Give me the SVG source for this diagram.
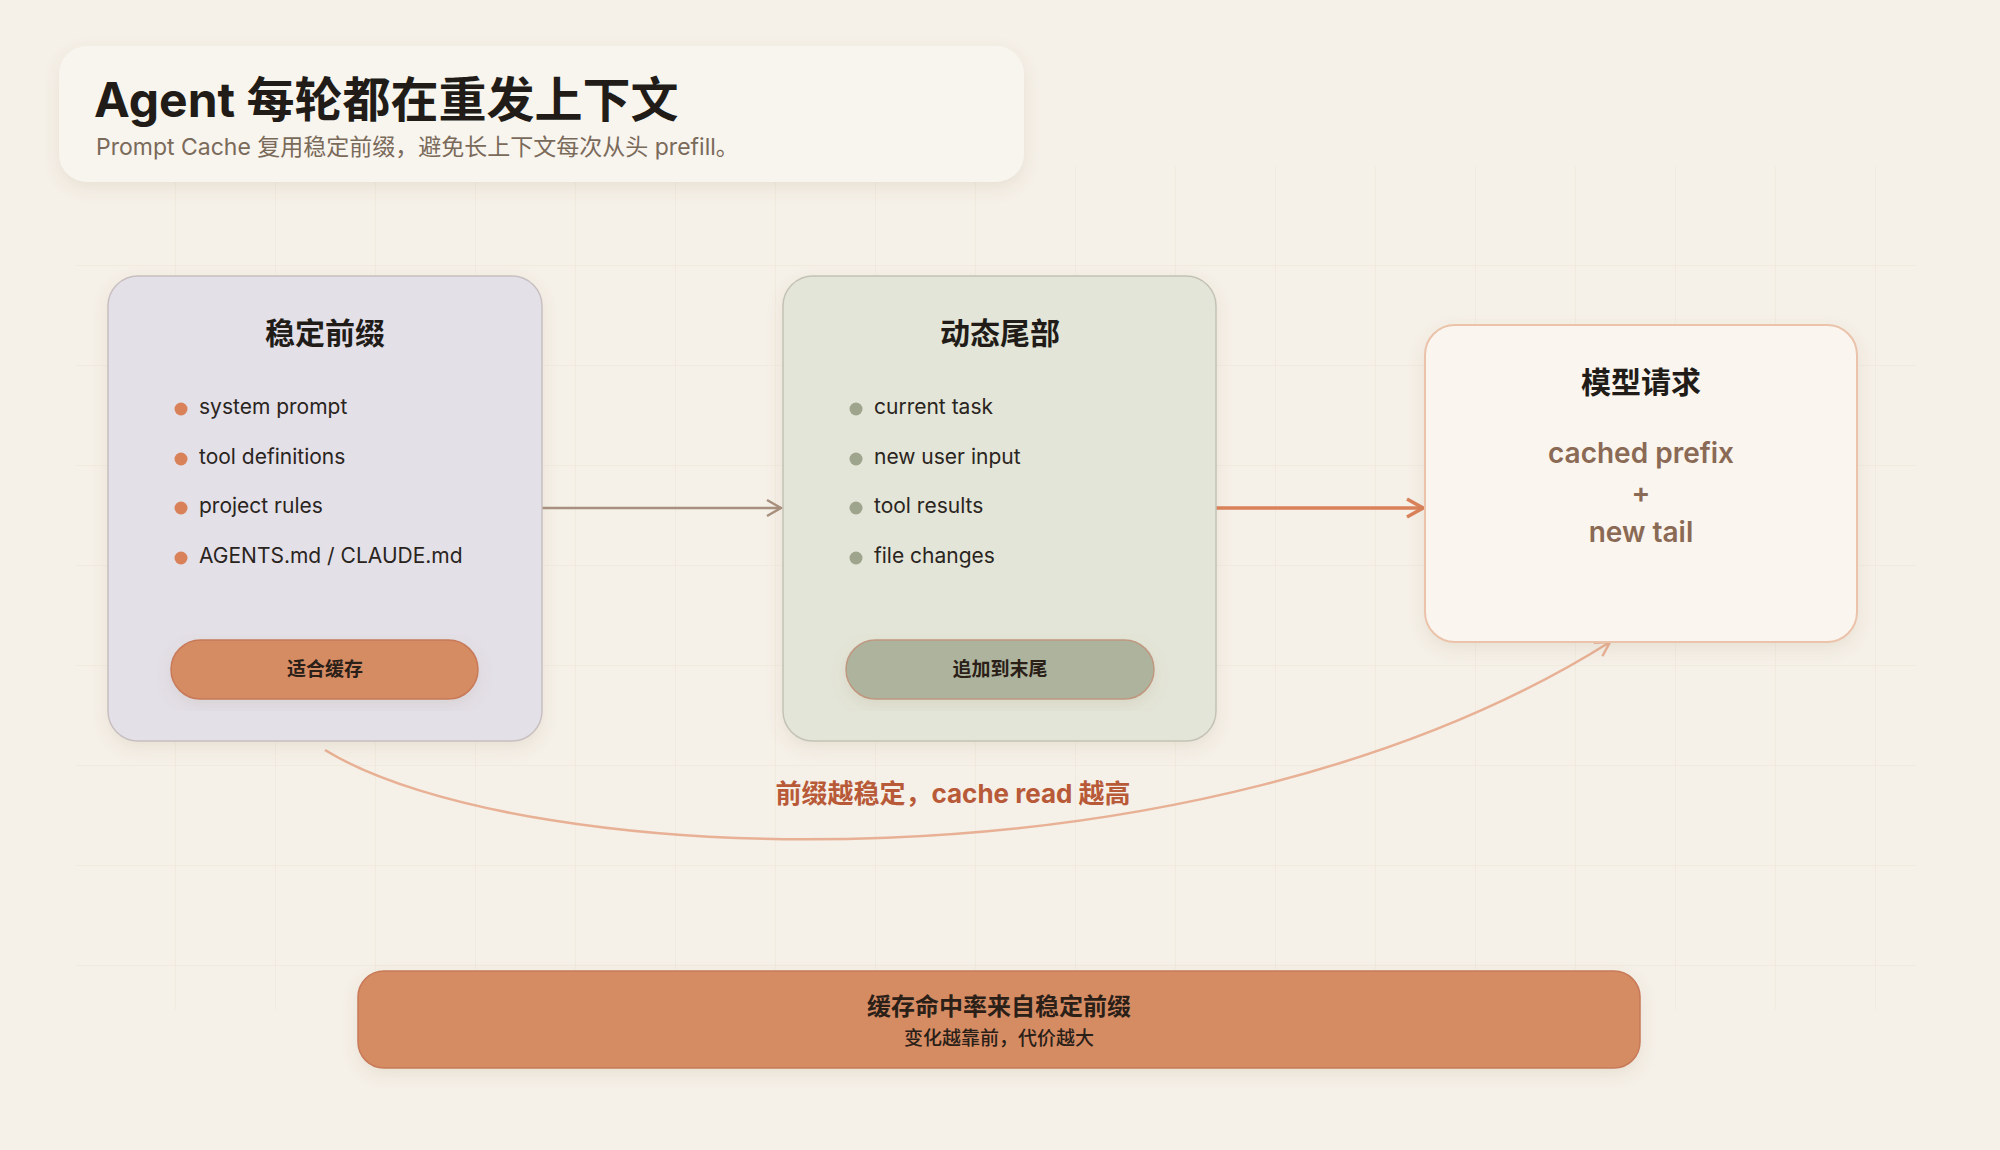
<svg xmlns="http://www.w3.org/2000/svg" width="2000" height="1150" viewBox="0 0 2000 1150">
<defs>
<style>
text{font-family:"Inter","Noto Sans CJK SC",sans-serif}
.h{font-weight:700;fill:#211c18;text-anchor:middle;font-size:30px}
.li{font-size:21px;fill:#2a2420}
.pt{font-size:19px;font-weight:600;fill:#2a2018;text-anchor:middle}
.big{font-size:28px;font-weight:600;fill:#8a6a55;text-anchor:middle}
</style>
<pattern id="grid" width="100" height="100" patternUnits="userSpaceOnUse" x="76" y="66">
<path d="M100 0V100M0 100H100" fill="none" stroke="#ece4d6" stroke-width="1"/>
</pattern>
<filter id="sh" x="-10%" y="-10%" width="120%" height="130%"><feDropShadow dx="0" dy="6" stdDeviation="8" flood-color="#8a7050" flood-opacity="0.12"/></filter>
<marker id="a1" markerWidth="20" markerHeight="20" refX="18" refY="10" orient="auto" markerUnits="userSpaceOnUse"><path d="M4 2L18 10L4 18" fill="none" stroke="#a89080" stroke-width="2.5"/></marker>
<marker id="a2" markerWidth="22" markerHeight="22" refX="20" refY="11" orient="auto" markerUnits="userSpaceOnUse"><path d="M4 2L20 11L4 20" fill="none" stroke="#d9825a" stroke-width="3.5"/></marker>
<marker id="a3" markerWidth="22" markerHeight="22" refX="18" refY="11" orient="auto" markerUnits="userSpaceOnUse"><path d="M4 3L18 11L4 19" fill="none" stroke="#e8b094" stroke-width="2.5"/></marker>
</defs>
<rect width="2000" height="1150" fill="#f5f0e8"/>
<rect x="76" y="166" width="1840" height="844" fill="url(#grid)"/>
<g id="title">
<rect x="59" y="46" width="965" height="136" rx="28" fill="#f8f4ee" filter="url(#sh)"/>
<text x="94" y="117" font-size="48" font-weight="700" fill="#211c18">Agent 每轮都在重发上下文</text>
<text x="96" y="155" font-size="23" fill="#7a6a5a">Prompt Cache 复用稳定前缀，避免长上下文每次从头 prefill。</text>
</g>
<g id="connectors" fill="none">
<path d="M542 508H781" stroke="#a89080" stroke-width="2.5" marker-end="url(#a1)"/>
<path d="M1216 508H1423" stroke="#d9825a" stroke-width="3.5" marker-end="url(#a2)"/>
<path d="M325 750C520 870 1200 900 1610 642" stroke="#e8b094" stroke-width="2.5" marker-end="url(#a3)"/>
<text x="953" y="803" font-size="26" font-weight="700" fill="#b85a38" text-anchor="middle" stroke="none">前缀越稳定，cache read 越高</text>
</g>
<g id="stable">
<rect x="108" y="276" width="434" height="465" rx="30" fill="#e3e0e8" stroke="#c8bfc0" stroke-width="1.5" filter="url(#sh)"/>
<text x="325" y="344" class="h">稳定前缀</text>
<g fill="#d9825a"><circle cx="181" cy="409" r="6.5"/><circle cx="181" cy="459" r="6.5"/><circle cx="181" cy="508" r="6.5"/><circle cx="181" cy="558" r="6.5"/></g>
<text x="199" y="414" class="li">system prompt</text>
<text x="199" y="464" class="li">tool definitions</text>
<text x="199" y="513" class="li">project rules</text>
<text x="199" y="563" class="li">AGENTS.md / CLAUDE.md</text>
<rect x="171" y="640" width="307" height="59" rx="29.5" fill="#d68c64" stroke="#c87a58" stroke-width="1.5" filter="url(#sh)"/>
<text x="325" y="676" class="pt">适合缓存</text>
</g>
<g id="dynamic">
<rect x="783" y="276" width="433" height="465" rx="30" fill="#e3e5d8" stroke="#c4c2b4" stroke-width="1.5" filter="url(#sh)"/>
<text x="1000" y="344" class="h">动态尾部</text>
<g fill="#9ea58c"><circle cx="856" cy="409" r="6.5"/><circle cx="856" cy="459" r="6.5"/><circle cx="856" cy="508" r="6.5"/><circle cx="856" cy="558" r="6.5"/></g>
<text x="874" y="414" class="li">current task</text>
<text x="874" y="464" class="li">new user input</text>
<text x="874" y="513" class="li">tool results</text>
<text x="874" y="563" class="li">file changes</text>
<rect x="846" y="640" width="308" height="59" rx="29.5" fill="#adb39c" stroke="#c09880" stroke-width="1.5" filter="url(#sh)"/>
<text x="1000" y="676" class="pt">追加到末尾</text>
</g>
<g id="request">
<rect x="1425" y="325" width="432" height="317" rx="30" fill="#faf5ee" stroke="#ebc3ab" stroke-width="2" filter="url(#sh)"/>
<text x="1641" y="393" class="h">模型请求</text>
<text x="1641" y="463" class="big">cached prefix</text>
<text x="1641" y="503" class="big">+</text>
<text x="1641" y="542" class="big">new tail</text>
</g>
<g id="summary">
<rect x="358" y="971" width="1282" height="97" rx="26" fill="#d68c64" stroke="#c87a58" stroke-width="1.5" filter="url(#sh)"/>
<text x="999" y="1015" font-size="24" font-weight="700" fill="#2a2018" text-anchor="middle">缓存命中率来自稳定前缀</text>
<text x="999" y="1045" font-size="19" font-weight="500" fill="#2a2018" text-anchor="middle">变化越靠前，代价越大</text>
</g>
</svg>
